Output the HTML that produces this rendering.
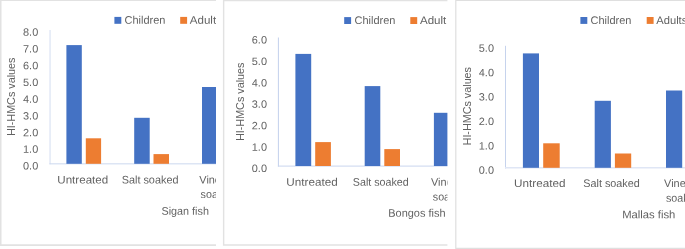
<!DOCTYPE html>
<html lang="en">
<head>
<meta charset="utf-8">
<title>HI-HMCs values charts</title>
<style>
html,body{margin:0;padding:0;background:#fff;}
body{width:685px;height:249px;overflow:hidden;}
svg{display:block;}
text{font-family:"Liberation Sans",sans-serif;font-size:11px;fill:#626262;}
text.n{font-size:10.6px;}
</style>
</head>
<body>
<svg width="685" height="249" viewBox="0 0 685 249">
<rect x="0" y="0" width="685" height="249" fill="#ffffff"/>
<defs>
<clipPath id="c1"><rect x="0" y="0" width="216.00" height="249"/></clipPath>
<clipPath id="c2"><rect x="222.4" y="0" width="225.00" height="249"/></clipPath>
<clipPath id="c3"><rect x="455.0" y="0" width="230.00" height="249"/></clipPath>
</defs>
<g clip-path="url(#c1)">
<path d="M 221 0.3 H 0.7 V 245.1 H 221" fill="none" stroke="#e2e2e2" stroke-width="1.6"/>
<line x1="50.05" y1="30.0" x2="50.05" y2="164.35" stroke="#dce4f4" stroke-width="1.25"/>
<line x1="49.425" y1="163.85" x2="221" y2="163.85" stroke="#ccd8ef" stroke-width="1.0"/>
<rect x="66.40" y="45.10" width="15.40" height="118.70" fill="#4472C4"/>
<rect x="85.80" y="138.30" width="15.30" height="25.50" fill="#ED7D31"/>
<rect x="134.20" y="117.80" width="15.50" height="46.00" fill="#4472C4"/>
<rect x="153.50" y="154.10" width="15.50" height="9.70" fill="#ED7D31"/>
<rect x="202.00" y="87.00" width="15.50" height="76.80" fill="#4472C4"/>
<rect x="114.40" y="16.90" width="6.90" height="6.90" fill="#4472C4"/>
<text x="124.50" y="23.70" transform="rotate(0.03 124.50 23.70)" textLength="40.96" lengthAdjust="spacingAndGlyphs">Children</text>
<rect x="180.20" y="16.90" width="6.90" height="6.90" fill="#ED7D31"/>
<text x="189.80" y="23.70" transform="rotate(0.03 189.80 23.70)" textLength="26.32" lengthAdjust="spacingAndGlyphs">Adult</text>
<text x="23.05" y="35.75" transform="rotate(0.03 23.05 35.75)" textLength="15.19" lengthAdjust="spacingAndGlyphs" class="n">8.0</text>
<text x="23.05" y="52.48" transform="rotate(0.03 23.05 52.48)" textLength="15.19" lengthAdjust="spacingAndGlyphs" class="n">7.0</text>
<text x="23.05" y="69.21" transform="rotate(0.03 23.05 69.21)" textLength="15.19" lengthAdjust="spacingAndGlyphs" class="n">6.0</text>
<text x="23.05" y="85.94" transform="rotate(0.03 23.05 85.94)" textLength="15.19" lengthAdjust="spacingAndGlyphs" class="n">5.0</text>
<text x="23.05" y="102.67" transform="rotate(0.03 23.05 102.67)" textLength="15.19" lengthAdjust="spacingAndGlyphs" class="n">4.0</text>
<text x="23.05" y="119.40" transform="rotate(0.03 23.05 119.40)" textLength="15.19" lengthAdjust="spacingAndGlyphs" class="n">3.0</text>
<text x="23.05" y="136.13" transform="rotate(0.03 23.05 136.13)" textLength="15.19" lengthAdjust="spacingAndGlyphs" class="n">2.0</text>
<text x="23.05" y="152.86" transform="rotate(0.03 23.05 152.86)" textLength="15.19" lengthAdjust="spacingAndGlyphs" class="n">1.0</text>
<text x="23.05" y="169.59" transform="rotate(0.03 23.05 169.59)" textLength="15.19" lengthAdjust="spacingAndGlyphs" class="n">0.0</text>
<text transform="translate(15.10 136.00) rotate(-90)" textLength="78.40" lengthAdjust="spacingAndGlyphs">HI-HMCs values</text>
<text x="57.30" y="183.50" transform="rotate(0.03 57.30 183.50)" textLength="50.90" lengthAdjust="spacingAndGlyphs">Untreated</text>
<text x="121.70" y="183.50" transform="rotate(0.03 121.70 183.50)" textLength="56.80" lengthAdjust="spacingAndGlyphs">Salt soaked</text>
<text x="199.30" y="183.50" transform="rotate(0.03 199.30 183.50)" textLength="37.42" lengthAdjust="spacingAndGlyphs">Vinegar</text>
<text x="200.60" y="198.10" transform="rotate(0.03 200.60 198.10)" textLength="34.50" lengthAdjust="spacingAndGlyphs">soaked</text>
<text x="161.50" y="214.80" transform="rotate(0.03 161.50 214.80)" textLength="47.40" lengthAdjust="spacingAndGlyphs">Sigan fish</text>
</g>
<g clip-path="url(#c2)">
<path d="M 452.4 0.4 H 223.6 V 245.0 H 452.4" fill="none" stroke="#e2e2e2" stroke-width="1.5"/>
<line x1="278.4" y1="37.5" x2="278.4" y2="166.6" stroke="#c3d1ec" stroke-width="1.0"/>
<line x1="277.9" y1="166.1" x2="452.4" y2="166.1" stroke="#c9d6ee" stroke-width="1.0"/>
<rect x="295.40" y="53.90" width="15.80" height="112.10" fill="#4472C4"/>
<rect x="315.20" y="142.10" width="15.70" height="23.90" fill="#ED7D31"/>
<rect x="364.70" y="86.10" width="15.60" height="79.90" fill="#4472C4"/>
<rect x="384.30" y="149.10" width="15.70" height="16.90" fill="#ED7D31"/>
<rect x="433.90" y="112.80" width="15.60" height="53.20" fill="#4472C4"/>
<rect x="344.20" y="17.10" width="6.90" height="6.90" fill="#4472C4"/>
<text x="354.50" y="24.00" transform="rotate(0.03 354.50 24.00)" textLength="40.96" lengthAdjust="spacingAndGlyphs">Children</text>
<rect x="410.30" y="17.10" width="6.90" height="6.90" fill="#ED7D31"/>
<text x="420.00" y="24.00" transform="rotate(0.03 420.00 24.00)" textLength="26.32" lengthAdjust="spacingAndGlyphs">Adult</text>
<text x="251.80" y="43.60" transform="rotate(0.03 251.80 43.60)" textLength="15.19" lengthAdjust="spacingAndGlyphs" class="n">6.0</text>
<text x="251.80" y="65.02" transform="rotate(0.03 251.80 65.02)" textLength="15.19" lengthAdjust="spacingAndGlyphs" class="n">5.0</text>
<text x="251.80" y="86.44" transform="rotate(0.03 251.80 86.44)" textLength="15.19" lengthAdjust="spacingAndGlyphs" class="n">4.0</text>
<text x="251.80" y="107.86" transform="rotate(0.03 251.80 107.86)" textLength="15.19" lengthAdjust="spacingAndGlyphs" class="n">3.0</text>
<text x="251.80" y="129.28" transform="rotate(0.03 251.80 129.28)" textLength="15.19" lengthAdjust="spacingAndGlyphs" class="n">2.0</text>
<text x="251.80" y="150.70" transform="rotate(0.03 251.80 150.70)" textLength="15.19" lengthAdjust="spacingAndGlyphs" class="n">1.0</text>
<text x="251.80" y="172.12" transform="rotate(0.03 251.80 172.12)" textLength="15.19" lengthAdjust="spacingAndGlyphs" class="n">0.0</text>
<text transform="translate(244.10 141.00) rotate(-90)" textLength="78.40" lengthAdjust="spacingAndGlyphs">HI-HMCs values</text>
<text x="286.30" y="185.70" transform="rotate(0.03 286.30 185.70)" textLength="51.40" lengthAdjust="spacingAndGlyphs">Untreated</text>
<text x="352.80" y="185.70" transform="rotate(0.03 352.80 185.70)" textLength="56.00" lengthAdjust="spacingAndGlyphs">Salt soaked</text>
<text x="430.90" y="185.70" transform="rotate(0.03 430.90 185.70)" textLength="37.42" lengthAdjust="spacingAndGlyphs">Vinegar</text>
<text x="432.80" y="200.50" transform="rotate(0.03 432.80 200.50)" textLength="34.50" lengthAdjust="spacingAndGlyphs">soaked</text>
<text x="388.30" y="216.80" transform="rotate(0.03 388.30 216.80)" textLength="57.20" lengthAdjust="spacingAndGlyphs">Bongos fish</text>
</g>
<g clip-path="url(#c3)">
<path d="M 690 0.3 H 455.8 V 248.3 H 690" fill="none" stroke="#dfdfdf" stroke-width="1.2"/>
<line x1="505.5" y1="45.8" x2="505.5" y2="168.5" stroke="#c6d3ed" stroke-width="1.0"/>
<line x1="505.0" y1="167.8" x2="690" y2="167.8" stroke="#dfe6f5" stroke-width="1.4"/>
<rect x="522.90" y="53.40" width="16.10" height="114.40" fill="#4472C4"/>
<rect x="543.20" y="143.30" width="16.50" height="24.50" fill="#ED7D31"/>
<rect x="594.70" y="100.80" width="16.20" height="67.00" fill="#4472C4"/>
<rect x="614.90" y="153.50" width="16.30" height="14.30" fill="#ED7D31"/>
<rect x="666.00" y="90.50" width="16.20" height="77.30" fill="#4472C4"/>
<rect x="580.40" y="17.00" width="6.90" height="6.90" fill="#4472C4"/>
<text x="590.50" y="23.90" transform="rotate(0.03 590.50 23.90)" textLength="40.96" lengthAdjust="spacingAndGlyphs">Children</text>
<rect x="646.70" y="17.00" width="6.90" height="6.90" fill="#ED7D31"/>
<text x="656.30" y="23.90" transform="rotate(0.03 656.30 23.90)" textLength="31.01" lengthAdjust="spacingAndGlyphs">Adults</text>
<text x="478.80" y="51.80" transform="rotate(0.03 478.80 51.80)" textLength="15.19" lengthAdjust="spacingAndGlyphs" class="n">5.0</text>
<text x="478.80" y="76.20" transform="rotate(0.03 478.80 76.20)" textLength="15.19" lengthAdjust="spacingAndGlyphs" class="n">4.0</text>
<text x="478.80" y="100.60" transform="rotate(0.03 478.80 100.60)" textLength="15.19" lengthAdjust="spacingAndGlyphs" class="n">3.0</text>
<text x="478.80" y="125.00" transform="rotate(0.03 478.80 125.00)" textLength="15.19" lengthAdjust="spacingAndGlyphs" class="n">2.0</text>
<text x="478.80" y="149.40" transform="rotate(0.03 478.80 149.40)" textLength="15.19" lengthAdjust="spacingAndGlyphs" class="n">1.0</text>
<text x="478.80" y="173.80" transform="rotate(0.03 478.80 173.80)" textLength="15.19" lengthAdjust="spacingAndGlyphs" class="n">0.0</text>
<text transform="translate(471.10 145.40) rotate(-90)" textLength="78.40" lengthAdjust="spacingAndGlyphs">HI-HMCs values</text>
<text x="514.10" y="187.10" transform="rotate(0.03 514.10 187.10)" textLength="51.40" lengthAdjust="spacingAndGlyphs">Untreated</text>
<text x="583.30" y="187.10" transform="rotate(0.03 583.30 187.10)" textLength="56.50" lengthAdjust="spacingAndGlyphs">Salt soaked</text>
<text x="664.10" y="187.10" transform="rotate(0.03 664.10 187.10)" textLength="37.42" lengthAdjust="spacingAndGlyphs">Vinegar</text>
<text x="665.90" y="201.70" transform="rotate(0.03 665.90 201.70)" textLength="34.50" lengthAdjust="spacingAndGlyphs">soaked</text>
<text x="622.20" y="218.20" transform="rotate(0.03 622.20 218.20)" textLength="53.20" lengthAdjust="spacingAndGlyphs">Mallas fish</text>
</g>
</svg>
</body>
</html>
